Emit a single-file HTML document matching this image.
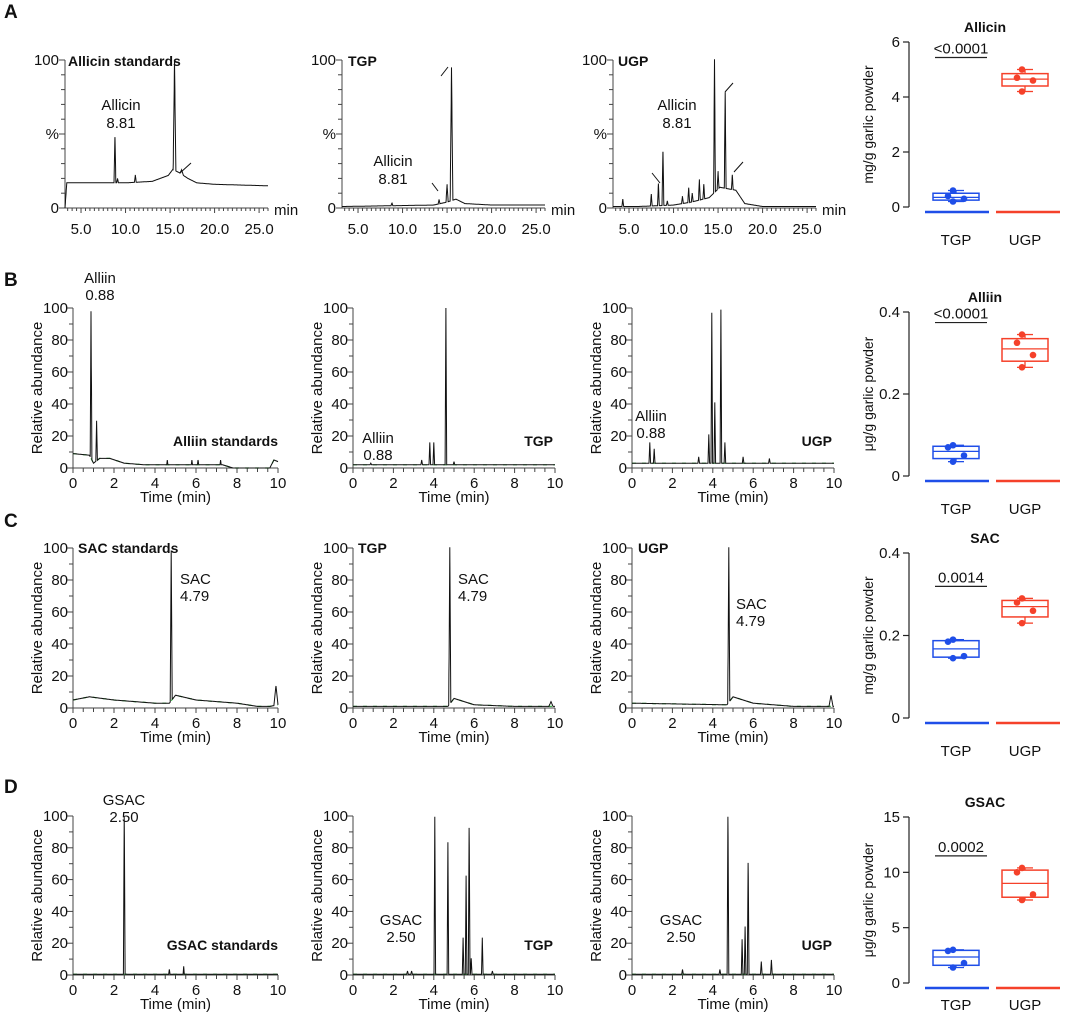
<!DOCTYPE html>
<html><head><meta charset="utf-8"><style>
body{margin:0;background:#fff}
svg{display:block;font-family:"Liberation Sans",Arial,sans-serif}
</style></head><body>
<svg id="fig" width="1065" height="1016" viewBox="0 0 1065 1016"></svg>
<script>
// ---- chromatogram data: baselines [t, y] and peaks [t, height, halfwidth] ----
const a1Base=[[3.2,0],[3.4,17],[10,17],[13,18],[14.8,22],[15.3,26],[16,24],[17,20],[18,17],[20,16],[26,15]];
const a1Peaks=[[8.81,34,0.1],[9.1,3,0.1],[11.1,5,0.1],[15.5,74,0.15],[16.3,3,0.2]];
const a2Base=[[3.2,1],[13.5,2],[15,4],[16,6],[17,3],[20,2],[26,2]];
const a2Peaks=[[8.81,2,0.1],[14.1,3,0.1],[15.0,12,0.12],[15.5,90,0.15]];
const a3Base=[[3.2,1],[6,1],[10,2],[12,4],[14,7],[15.2,14],[17,12],[18,3],[20,1],[26,1]];
const a3Peaks=[[4.3,5,0.1],[7.5,8,0.1],[8.3,15,0.1],[8.81,40,0.1],[9.3,3,0.1],[11,5,0.1],[11.7,10,0.1],[12.1,6,0.1],[12.9,14,0.1],[13.4,10,0.1],[14.6,90,0.1],[15.0,12,0.1],[15.8,65,0.1],[16.6,10,0.1]];
const b1Base=[[0,9],[0.8,8],[1.0,3],[1.3,6],[1.8,6],[2.5,3],[3.5,2],[7.3,2],[7.8,0],[9.6,0],[9.8,5],[10,4]];
const b1Peaks=[[0.88,92,0.04],[1.15,25,0.04],[4.6,3,0.03],[5.8,3,0.03],[6.1,3,0.03],[7.2,3,0.03]];
const b2Base=[[0,2],[10,2]];
const b2Peaks=[[0.88,1,0.04],[3.4,3,0.04],[3.8,14,0.04],[4.0,14,0.04],[4.6,98,0.04],[5.0,2,0.04]];
const b3Base=[[0,3],[10,3]];
const b3Peaks=[[0.88,13,0.04],[1.1,9,0.04],[3.3,4,0.04],[3.8,18,0.04],[3.95,94,0.04],[4.1,38,0.04],[4.4,96,0.04],[4.6,13,0.04],[5.5,4,0.04],[6.8,3,0.04]];
const c1Base=[[0,5],[0.8,7],[2,5],[4,3],[4.7,3],[5,8],[6,5],[8,3],[9,1],[9.6,1],[10,2]];
const c1Peaks=[[4.79,94,0.05],[9.9,12,0.1]];
const c2Base=[[0,1],[4.7,1],[5,6],[6,2],[8,1],[10,1]];
const c2Peaks=[[4.79,98,0.05],[9.8,3,0.1]];
const c3Base=[[0,3],[4.7,2],[5,7],[6,3],[8,1],[9.6,1],[10,1]];
const c3Peaks=[[4.79,97,0.05],[9.85,7,0.1]];
const d1Base=[[0,0.5],[10,0.5]];
const d1Peaks=[[2.5,99,0.04],[4.7,3,0.03],[5.4,5,0.03]];
const d2Base=[[0,0.5],[10,0.5]];
const d2Peaks=[[2.7,2,0.04],[2.9,2,0.04],[4.05,99,0.04],[4.7,83,0.04],[5.45,23,0.04],[5.6,62,0.04],[5.75,92,0.04],[5.85,10,0.04],[6.4,23,0.04],[6.9,2,0.04]];
const d3Base=[[0,0.5],[10,0.5]];
const d3Peaks=[[2.5,3,0.04],[4.35,3,0.04],[4.75,99,0.04],[5.45,22,0.04],[5.6,30,0.04],[5.75,70,0.04],[6.4,8,0.04],[6.9,9,0.04]];

// ---- box plot data ----
const boxCats=["TGP","UGP"];
const allicinTGP=[0.6,0.4,0.3,0.2], allicinUGP=[5.0,4.7,4.6,4.2];
const alliinTGP=[0.075,0.07,0.05,0.035], alliinUGP=[0.345,0.325,0.295,0.265];
const sacTGP=[0.19,0.185,0.15,0.145], sacUGP=[0.29,0.28,0.26,0.23];
const gsacTGP=[3.0,2.9,1.8,1.4], gsacUGP=[10.4,10.0,8.0,7.5];
const allicinTicks=[0,2,4,6], alliinTicks=[0,0.2,0.4], sacTicks=[0,0.2,0.4], gsacTicks=[0,5,10,15];
const pvals=["<0.0001","<0.0001","0.0014","0.0002"];

const svg=document.getElementById('fig');
const NS='http://www.w3.org/2000/svg';
function el(tag,attrs,parent){const e=document.createElementNS(NS,tag);for(const k in attrs)e.setAttribute(k,attrs[k]);(parent||svg).appendChild(e);return e;}
function txt(s,x,y,opt,parent){const e=el('text',Object.assign({x:x,y:y,'font-size':14,fill:'#111'},opt||{}),parent);e.textContent=s;return e;}
function interp(base,t){for(let i=0;i<base.length-1;i++){if(t>=base[i][0]&&t<=base[i+1][0]){const f=(t-base[i][0])/(base[i+1][0]-base[i][0]||1);return base[i][1]+f*(base[i+1][1]-base[i][1]);}}return base[base.length-1][1];}
function signal(base,peaks,t){let y=interp(base,t);for(const p of peaks){const d=Math.abs(t-p[0]);if(d<p[2])y+=p[1]*(1-d/p[2]);}return y;}

function chrom(name,ax,ay0,ay100,xw,t0,t1,base,peaks,kind){
  const g=el('g',{});
  
  
  const X=t=>ax+(t-t0)/(t1-t0)*xw, Y=v=>ay0-(v/100)*(ay0-ay100);
  el('line',{x1:ax,y1:ay0,x2:ax,y2:ay100,stroke:'#444','stroke-width':1},g);
  el('line',{x1:ax,y1:ay0,x2:ax+xw,y2:ay0,stroke:'#444','stroke-width':1},g);
  for(let v=0;v<=100;v+=10){el('line',{x1:ax-(v%(kind==='A'?50:20)===0?6:4),y1:Y(v),x2:ax,y2:Y(v),stroke:'#444'},g);}
  if(kind==='A'){
    txt('100',ax-6,Y(100)+5,{'text-anchor':'end','font-size':15},g);txt('%',ax-6,Y(50)+5,{'text-anchor':'end','font-size':15},g);txt('0',ax-6,Y(0)+5,{'text-anchor':'end','font-size':15},g);
    for(let t=3.5;t<=t1;t+=0.5){el('line',{x1:X(t),y1:ay0,x2:X(t),y2:ay0+(t%5===0?5:3),stroke:'#444'},g);}
    [5,10,15,20,25].forEach(t=>txt(t.toFixed(1),X(t),ay0+26,{'text-anchor':'middle','font-size':15},g));
    txt('min',ax+xw+6,ay0+7,{'font-size':15},g);
  } else {
    for(let v=0;v<=100;v+=20)txt(String(v),ax-5,Y(v)+5,{'text-anchor':'end','font-size':15},g);
    for(let t=0;t<=10.001;t+=0.5){el('line',{x1:X(t),y1:ay0,x2:X(t),y2:ay0+(Math.abs(t%2)<0.01?5:4),stroke:'#444'},g);}
    for(let t=0;t<=10;t+=2)txt(String(t),X(t),ay0+20,{'text-anchor':'middle','font-size':15},g);
    txt('Time (min)',X(5),ay0+34,{'text-anchor':'middle','font-size':15},g);
    const ty=(ay0+ay100)/2;txt('Relative abundance',ax-31,ty,{'text-anchor':'middle',transform:'rotate(-90 '+(ax-31)+' '+ty+')','font-size':15},g);
  }
  let d='',gd='';const step=kind==='A'?0.02:0.005;
  for(let t=t0;t<=t1+1e-9;t+=step){d+=(d?'L':'M')+X(t).toFixed(1)+','+Y(signal(base,peaks,t)).toFixed(1);}
  if(kind!=='A'){for(let t=t0;t<=t1;t+=0.1)gd+=(gd?'L':'M')+X(t).toFixed(1)+','+Y(interp(base,t)).toFixed(1);
    const gp=el('path',{d:gd,fill:'none',stroke:'#3db84a','stroke-width':1.2,'stroke-dasharray':'4 6'},g);
    }
  const p=el('path',{d:d,fill:'none',stroke:'#111','stroke-width':1},g);
  
  
  return g;
}
// Row A
chrom('chrom-a-standards',65,208,60,203,3.2,26,a1Base,a1Peaks,'A');
chrom('chrom-a-tgp',342,208,60,203,3.2,26,a2Base,a2Peaks,'A');
chrom('chrom-a-ugp',613,208,60,203,3.2,26,a3Base,a3Peaks,'A');
// Row B
chrom('chrom-b-standards',73,468,308,205,0,10,b1Base,b1Peaks,'B');
chrom('chrom-b-tgp',353,468,308,202,0,10,b2Base,b2Peaks,'B');
chrom('chrom-b-ugp',632,468,308,202,0,10,b3Base,b3Peaks,'B');
// Row C
chrom('chrom-c-standards',73,708,548,205,0,10,c1Base,c1Peaks,'B');
chrom('chrom-c-tgp',353,708,548,202,0,10,c2Base,c2Peaks,'B');
chrom('chrom-c-ugp',632,708,548,202,0,10,c3Base,c3Peaks,'B');
// Row D
chrom('chrom-d-standards',73,975,816,205,0,10,d1Base,d1Peaks,'B');
chrom('chrom-d-tgp',353,975,816,202,0,10,d2Base,d2Peaks,'B');
chrom('chrom-d-ugp',632,975,816,202,0,10,d3Base,d3Peaks,'B');

// slanted markers in row A
[[180,173,191,163],[432,183,438,191],[441,76,448,67],[652,173,660,183],[725,92,733,83],[734,172,743,162]].forEach(s=>{const l=el('line',{x1:s[0],y1:s[1],x2:s[2],y2:s[3],stroke:'#111'});});

// annotations
const B={'font-weight':'bold','font-size':14};
txt('Allicin standards',68,66,B);txt('TGP',348,66,B);txt('UGP',618,66,B);
txt('Allicin',121,110,{'text-anchor':'middle','font-size':15});txt('8.81',121,128,{'text-anchor':'middle','font-size':15});
txt('Allicin',393,166,{'text-anchor':'middle','font-size':15});txt('8.81',393,184,{'text-anchor':'middle','font-size':15});
txt('Allicin',677,110,{'text-anchor':'middle','font-size':15});txt('8.81',677,128,{'text-anchor':'middle','font-size':15});
txt('Alliin',100,283,{'text-anchor':'middle','font-size':15});txt('0.88',100,300,{'text-anchor':'middle','font-size':15});
txt('Alliin standards',278,446,Object.assign({'text-anchor':'end'},B));
txt('Alliin',378,443,{'text-anchor':'middle','font-size':15});txt('0.88',378,460,{'text-anchor':'middle','font-size':15});
txt('TGP',553,446,Object.assign({'text-anchor':'end'},B));
txt('Alliin',651,421,{'text-anchor':'middle','font-size':15});txt('0.88',651,438,{'text-anchor':'middle','font-size':15});
txt('UGP',832,446,Object.assign({'text-anchor':'end'},B));
txt('SAC standards',78,553,B);txt('TGP',358,553,B);txt('UGP',638,553,B);
txt('SAC',180,584,{'font-size':15});txt('4.79',180,601,{'font-size':15});
txt('SAC',458,584,{'font-size':15});txt('4.79',458,601,{'font-size':15});
txt('SAC',736,609,{'font-size':15});txt('4.79',736,626,{'font-size':15});
txt('GSAC',124,805,{'text-anchor':'middle','font-size':15});txt('2.50',124,822,{'text-anchor':'middle','font-size':15});
txt('GSAC standards',278,950,Object.assign({'text-anchor':'end'},B));
txt('GSAC',401,925,{'text-anchor':'middle','font-size':15});txt('2.50',401,942,{'text-anchor':'middle','font-size':15});
txt('TGP',553,950,Object.assign({'text-anchor':'end'},B));
txt('GSAC',681,925,{'text-anchor':'middle','font-size':15});txt('2.50',681,942,{'text-anchor':'middle','font-size':15});
txt('UGP',832,950,Object.assign({'text-anchor':'end'},B));
[['A',18],['B',286],['C',527],['D',793]].forEach(l=>{const t=txt(l[0],4,l[1],{'font-weight':'bold','font-size':19});});

// box plots
function boxplot(name,title,ylab,ticks,ymax,y0,yTop,groups,pval,lineY,labY){
  const g=el('g',{});
  
  
  const ax=909, Y=v=>y0-v/ymax*(y0-yTop), cx=[956,1025], cols=['#1f4ee8','#f5412a'];
  el('line',{x1:ax,y1:y0,x2:ax,y2:yTop,stroke:'#222','stroke-width':1.2},g);
  ticks.forEach(v=>{el('line',{x1:ax-6,y1:Y(v),x2:ax,y2:Y(v),stroke:'#222','stroke-width':1.2},g);txt(String(v),ax-9,Y(v)+5,{'text-anchor':'end','font-size':15},g);});
  const my=(y0+yTop)/2;txt(ylab,873,my,{'text-anchor':'middle',transform:'rotate(-90 873 '+my+')','font-size':14},g);
  txt(title,985,yTop-10,{'text-anchor':'middle','font-weight':'bold','font-size':14},g);
  groups.forEach((vals,i)=>{
    const s=vals.slice().sort((a,b)=>a-b);
    const q1=(s[0]+s[1])/2, med=(s[1]+s[2])/2, q3=(s[2]+s[3])/2, c=cx[i], w=23, col=cols[i];
    el('line',{x1:c,y1:Y(s[3]),x2:c,y2:Y(q3),stroke:col,'stroke-width':1.3},g);
    el('line',{x1:c,y1:Y(s[0]),x2:c,y2:Y(q1),stroke:col,'stroke-width':1.3},g);
    el('line',{x1:c-8,y1:Y(s[3]),x2:c+8,y2:Y(s[3]),stroke:col,'stroke-width':1.3},g);
    el('line',{x1:c-8,y1:Y(s[0]),x2:c+8,y2:Y(s[0]),stroke:col,'stroke-width':1.3},g);
    const r=el('rect',{x:c-w,y:Y(q3),width:2*w,height:Math.max(1,Y(q1)-Y(q3)),fill:'none',stroke:col,'stroke-width':1.5},g);
    
    
    el('line',{x1:c-w,y1:Y(med),x2:c+w,y2:Y(med),stroke:col,'stroke-width':1.3},g);
    const off=[-3,-8,8,-3];
    vals.forEach((v,k)=>{const d=el('circle',{cx:c+off[k],cy:Y(v),r:3.3,fill:col},g);});
    el('line',{x1:i?996:925,y1:lineY,x2:i?1060:989,y2:lineY,stroke:col,'stroke-width':2.5},g);
    txt(boxCats[i],c,labY,{'text-anchor':'middle','font-size':15},g);
  });
  const sy=Math.min(Y(groups[1][0]),Y(Math.max(...groups[1])))-12;
  el('line',{x1:935,y1:sy,x2:987,y2:sy,stroke:'#222','stroke-width':1.2},g);
  txt(pval,961,sy-4,{'text-anchor':'middle','font-size':15},g);
}
boxplot('box-allicin','Allicin','mg/g garlic powder',allicinTicks,6,207,42,[allicinTGP,allicinUGP],pvals[0],212,245);
boxplot('box-alliin','Alliin','\u03bcg/g garlic powder',alliinTicks,0.4,476,312,[alliinTGP,alliinUGP],pvals[1],481,514);
boxplot('box-sac','SAC','mg/g garlic powder',sacTicks,0.4,718,553,[sacTGP,sacUGP],pvals[2],723,756);
boxplot('box-gsac','GSAC','\u03bcg/g garlic powder',gsacTicks,15,983,817,[gsacTGP,gsacUGP],pvals[3],988,1010);
</script>
</body></html>
